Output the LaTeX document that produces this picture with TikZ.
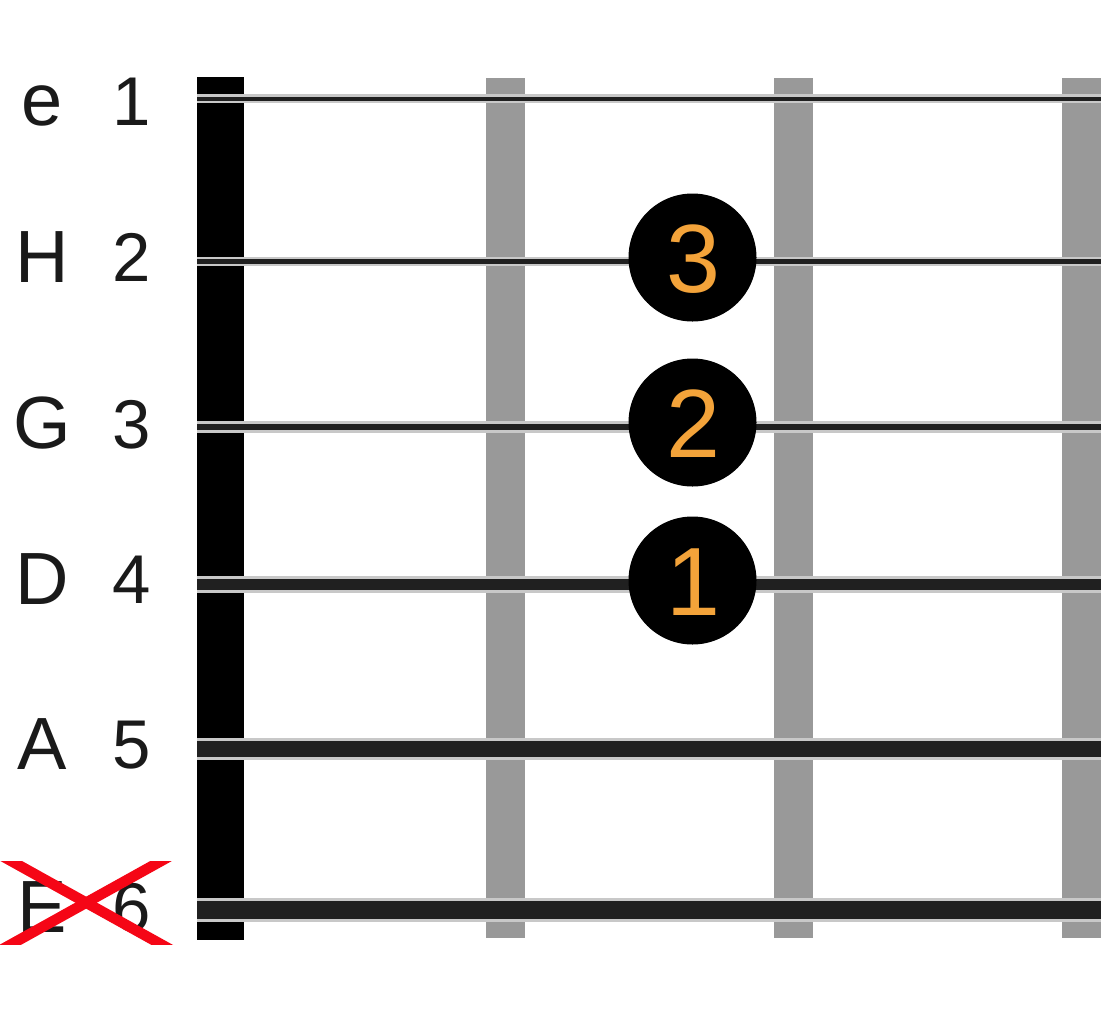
\documentclass[tikz,border=0pt]{standalone}
\usepackage{fontspec}
\setmainfont{Liberation Sans}
\definecolor{strdark}{RGB}{32,32,32}
\definecolor{strlight}{RGB}{200,200,200}
\definecolor{fretgray}{RGB}{153,153,153}
\definecolor{dotorange}{RGB}{243,163,58}
\definecolor{txt}{RGB}{26,26,26}
\definecolor{xred}{RGB}{245,6,22}
\begin{document}
\begin{tikzpicture}[x=1pt,y=-1pt,
  letterlbl/.style={inner sep=0pt,anchor=base,text=txt,font=\fontsize{74}{80}\selectfont},
  numlbl/.style={inner sep=0pt,anchor=base,text=txt,font=\fontsize{69}{76}\selectfont},
  fingerdot/.style={circle,fill=black,inner sep=0pt,minimum size=128pt},
  fingernum/.style={inner sep=0pt,anchor=base,text=dotorange,font=\fontsize{97}{100}\selectfont}]
\useasboundingbox (0,0) rectangle (1101,1021);
\fill[white] (0,0) rectangle (1101,1021);
% nut and frets
\fill[black] (197,77) rectangle (244,940);
\fill[fretgray] (486,78) rectangle (525,938);
\fill[fretgray] (774,78) rectangle (813,938);
\fill[fretgray] (1062,78) rectangle (1101,938);
% strings: light band, dark core
\foreach \la/\lb/\da/\db in {94/103/96.7/101, 257/266/259/264, 421/433/424/430, 576/593/579/590, 738/760/741/757, 898/922/901/919}{
  \fill[strlight] (197,\la) rectangle (1101,\lb);
  \fill[strdark] (197,\da) rectangle (1101,\db);
}
% finger dots
\node[fingerdot] (d3) at (692.5,257.5) {};
\node[fingerdot] (d2) at (692.5,422.5) {};
\node[fingerdot] (d1) at (692.5,580.5) {};
\node[fingernum] (n3) at (693,292) {3};
\node[fingernum] (n2) at (693,457) {2};
\node[fingernum] (n1) at (693,615) {1};
% string labels
\node[letterlbl] (le) at (42,125) {e};
\node[letterlbl] (lH) at (42,282) {H};
\node[letterlbl] (lG) at (42,448) {G};
\node[letterlbl] (lD) at (42,604) {D};
\node[letterlbl] (lA) at (42,769) {A};
\node[letterlbl] (lE) at (42,932) {E};
\node[numlbl] (s1) at (132,125) {1};
\node[numlbl] (s2) at (132,281) {2};
\node[numlbl] (s3) at (132,448) {3};
\node[numlbl] (s4) at (132,603) {4};
\node[numlbl] (s5) at (132,768) {5};
\node[numlbl] (s6) at (132,931) {6};
% red cross over muted string
\begin{scope}
\clip (0,861) rectangle (180,944.3);
\draw[xred,line width=10.5pt] (-3.7,852.7) -- (176,952.6);
\draw[xred,line width=10.5pt] (-3.7,952.6) -- (176,852.7);
\end{scope}
\end{tikzpicture}
\end{document}
